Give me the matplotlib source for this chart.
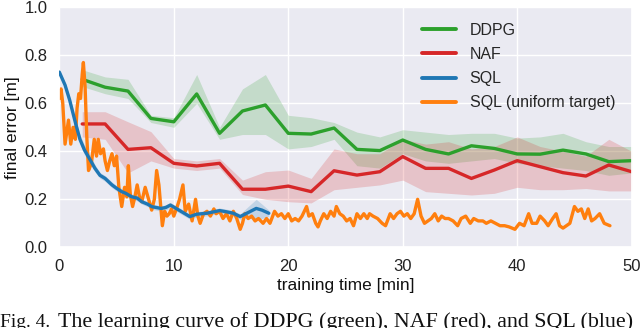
import numpy as np
import matplotlib
matplotlib.use("Agg")
import matplotlib.pyplot as plt
import seaborn as sns

# ---------------- data ----------------
ddpg_t = [2, 4, 6, 8, 10, 12, 14, 16, 18, 20, 22, 24, 26, 28, 30, 32, 34, 36, 38, 40, 42, 44, 46, 48, 50]
ddpg_v = [0.70, 0.667, 0.651, 0.537, 0.523, 0.639, 0.475, 0.568, 0.593, 0.475, 0.472, 0.497,
          0.408, 0.403, 0.447, 0.408, 0.389, 0.423, 0.412, 0.389, 0.388, 0.405, 0.389, 0.357, 0.361]
ddpg_lo = [0.67, 0.64, 0.62, 0.52, 0.50, 0.60, 0.45, 0.47, 0.47, 0.41, 0.42, 0.45,
           0.34, 0.33, 0.39, 0.36, 0.35, 0.36, 0.37, 0.35, 0.34, 0.33, 0.32, 0.30, 0.31]
ddpg_hi = [0.74, 0.71, 0.70, 0.55, 0.54, 0.72, 0.50, 0.66, 0.72, 0.55, 0.54, 0.52,
           0.48, 0.46, 0.49, 0.48, 0.47, 0.475, 0.475, 0.455, 0.46, 0.475, 0.44, 0.42, 0.42]

naf_t = [2, 4, 6, 8, 10, 12, 14, 16, 18, 20, 22, 24, 26, 28, 30, 32, 34, 36, 38, 40, 42, 44, 46, 48, 50]
naf_v = [0.514, 0.514, 0.408, 0.415, 0.35, 0.339, 0.35, 0.242, 0.242, 0.255, 0.232, 0.319,
         0.301, 0.315, 0.378, 0.329, 0.329, 0.287, 0.322, 0.361, 0.336, 0.311, 0.297, 0.343, 0.315]
naf_lo = [0.46, 0.45, 0.31, 0.36, 0.33, 0.32, 0.33, 0.22, 0.20, 0.19, 0.185, 0.24,
          0.25, 0.26, 0.28, 0.232, 0.225, 0.218, 0.225, 0.25, 0.24, 0.24, 0.245, 0.235, 0.235]
naf_hi = [0.565, 0.565, 0.523, 0.482, 0.37, 0.36, 0.37, 0.28, 0.315, 0.322, 0.287, 0.41,
          0.39, 0.39, 0.45, 0.43, 0.44, 0.41, 0.42, 0.46, 0.42, 0.40, 0.38, 0.45, 0.40]

sql_t = [0.0, 0.5, 0.9, 1.4, 1.8, 2.2, 2.7, 3.1, 3.55, 4.0, 4.6, 5.0, 5.45, 5.8, 6.3, 6.8, 7.2,
         7.7, 8.1, 8.9, 9.3, 9.7, 10.2, 10.8, 11.4, 12.0, 12.9, 13.5, 14.0, 14.6, 15.2, 15.8,
         16.5, 17.2, 17.7, 18.3]
sql_v = [0.73, 0.676, 0.614, 0.52, 0.45, 0.405, 0.364, 0.33, 0.30, 0.287, 0.26, 0.246, 0.232,
         0.225, 0.211, 0.205, 0.19, 0.18, 0.169, 0.162, 0.166, 0.176, 0.162, 0.145, 0.128, 0.138,
         0.142, 0.148, 0.153, 0.148, 0.142, 0.128, 0.145, 0.162, 0.155, 0.142]
sql_lo = [0.72, 0.665, 0.60, 0.50, 0.43, 0.385, 0.345, 0.315, 0.288, 0.275, 0.248, 0.235, 0.22,
          0.213, 0.2, 0.194, 0.18, 0.17, 0.158, 0.151, 0.155, 0.165, 0.151, 0.134, 0.117, 0.127,
          0.131, 0.137, 0.142, 0.137, 0.131, 0.117, 0.12, 0.12, 0.12, 0.13]
sql_hi = [0.74, 0.687, 0.628, 0.54, 0.47, 0.425, 0.383, 0.345, 0.312, 0.299, 0.272, 0.257, 0.244,
          0.237, 0.222, 0.216, 0.20, 0.19, 0.18, 0.173, 0.177, 0.187, 0.173, 0.156, 0.139, 0.149,
          0.153, 0.159, 0.164, 0.159, 0.153, 0.139, 0.17, 0.20, 0.18, 0.155]

uni_t = [0.0, 0.15, 0.3, 0.5, 0.65, 0.8, 1.0, 1.2, 1.4, 1.55, 1.7, 1.85, 2.0, 2.1, 2.25, 2.4,
         2.55, 2.8, 3.05, 3.25, 3.4, 3.6, 3.85, 4.0, 4.2, 4.4, 4.6, 4.8, 5.0, 5.2, 5.45, 5.7,
         5.9, 6.03, 6.2, 6.4, 6.6, 6.8, 7.0, 7.2, 7.5, 7.8, 8.07, 8.3, 8.5, 8.7, 9.0, 9.2, 9.4,
         9.6, 9.8, 10.0, 10.3, 10.5, 10.8, 11.0, 11.3, 11.6, 11.9, 12.1, 12.3, 12.6, 12.9, 13.2,
         13.5, 13.7, 14.0, 14.3, 14.6, 14.9, 15.2, 15.5, 15.8, 16.0, 16.2, 16.5, 16.8, 17.1, 17.4,
         17.8, 18.1, 18.4, 18.8, 19.1, 19.4, 19.7, 20.0, 20.3, 20.6, 20.9, 21.2, 21.6, 21.8, 22.1,
         22.4, 22.6, 22.8, 23.1, 23.4, 23.7, 24.0, 24.2, 24.5, 24.8, 25.1, 25.4, 25.7, 26.0, 26.3,
         26.6, 26.9, 27.1, 27.4, 27.8, 28.2, 28.5, 28.9, 29.2, 29.5, 29.8, 30.1, 30.4, 30.7, 31.0,
         31.3, 31.6, 31.9, 32.2, 32.5, 32.8, 33.1, 33.4, 33.7, 34.0, 34.4, 34.8, 35.1, 35.5, 35.9,
         36.2, 36.6, 37.0, 37.3, 37.7, 38.1, 38.5, 38.9, 39.3, 39.8, 40.2, 40.6, 41.0, 41.3, 41.7,
         42.0, 42.4, 42.7, 43.1, 43.4, 43.7, 44.0, 44.3, 44.6, 45.0, 45.3, 45.6, 45.9, 46.2, 46.5,
         46.8, 47.2, 47.6, 48.1]
uni_v = [0.62, 0.66, 0.60, 0.43, 0.48, 0.53, 0.43, 0.50, 0.45, 0.58, 0.64, 0.62, 0.72, 0.77,
         0.67, 0.46, 0.32, 0.35, 0.45, 0.38, 0.45, 0.39, 0.41, 0.36, 0.32, 0.36, 0.39, 0.34, 0.38,
         0.25, 0.17, 0.25, 0.21, 0.34, 0.22, 0.17, 0.21, 0.26, 0.21, 0.19, 0.25, 0.20, 0.155, 0.20,
         0.32, 0.26, 0.09, 0.15, 0.13, 0.14, 0.16, 0.13, 0.17, 0.20, 0.26, 0.15, 0.18, 0.11, 0.20,
         0.13, 0.10, 0.14, 0.15, 0.13, 0.16, 0.14, 0.15, 0.12, 0.14, 0.11, 0.15, 0.12, 0.075, 0.10,
         0.14, 0.12, 0.13, 0.11, 0.12, 0.10, 0.12, 0.10, 0.15, 0.13, 0.14, 0.12, 0.14, 0.11, 0.12,
         0.11, 0.13, 0.17, 0.13, 0.14, 0.10, 0.085, 0.11, 0.14, 0.12, 0.15, 0.13, 0.17, 0.14, 0.13,
         0.11, 0.12, 0.09, 0.14, 0.12, 0.14, 0.12, 0.14, 0.13, 0.12, 0.10, 0.09, 0.14, 0.12, 0.14,
         0.15, 0.13, 0.14, 0.12, 0.14, 0.20, 0.13, 0.10, 0.11, 0.12, 0.14, 0.11, 0.13, 0.12, 0.12,
         0.11, 0.09, 0.12, 0.13, 0.10, 0.12, 0.11, 0.11, 0.10, 0.11, 0.10, 0.09, 0.09, 0.085, 0.075,
         0.10, 0.09, 0.14, 0.10, 0.10, 0.13, 0.11, 0.09, 0.12, 0.14, 0.09, 0.08, 0.09, 0.10, 0.17,
         0.15, 0.16, 0.12, 0.16, 0.11, 0.12, 0.14, 0.10, 0.09]

xticks = [0, 10, 20, 30, 40, 50]
yticks = [0.0, 0.2, 0.4, 0.6, 0.8, 1.0]
labels = ["DDPG", "NAF", "SQL", "SQL (uniform target)"]
caption_head = "Fig. 4."
caption_body = "The learning curve of DDPG (green), NAF (red), and SQL (blue)"

# ---------------- style ----------------
sns.set_theme(style="darkgrid")
plt.rcParams["font.family"] = ["Liberation Sans", "DejaVu Sans"]

c_green, c_red, c_blue, c_orange = "#2ca02c", "#d62728", "#1f77b4", "#ff7f0e"

fig = plt.figure(figsize=(6.4, 3.28), dpi=100)
ax = fig.add_axes([0.0927, 0.246, 0.8943, 0.7317])

ax.fill_between(ddpg_t, ddpg_lo, ddpg_hi, color=c_green, alpha=0.2, lw=0)
ax.fill_between(naf_t, naf_lo, naf_hi, color=c_red, alpha=0.2, lw=0)
ax.fill_between(sql_t, sql_lo, sql_hi, color=c_blue, alpha=0.2, lw=0)

ax.plot(ddpg_t, ddpg_v, color=c_green, lw=2.4, label=labels[0])
ax.plot(naf_t, naf_v, color=c_red, lw=2.4, label=labels[1])
ax.plot(sql_t, sql_v, color=c_blue, lw=2.4, label=labels[2], zorder=3)
ax.plot(uni_t, uni_v, color=c_orange, lw=2.4, label=labels[3], zorder=2.5)

ax.set_xlim(0, 50)
ax.set_ylim(0, 1.0)
ax.set_xticks(xticks)
ax.set_yticks(yticks)
ax.set_yticklabels([f"{y:.1f}" for y in yticks])
ax.tick_params(axis="both", labelsize=12, pad=8.5, length=0, colors="#222222")
ax.set_xlabel("training time [min]", fontsize=12.5, color="#111111", labelpad=3)
ax.set_ylabel("final error [m]", fontsize=12.5, color="#111111", labelpad=3)

leg = ax.legend(loc="upper left", bbox_to_anchor=(0.608, 0.995), frameon=False,
                fontsize=11.5, labelspacing=0.57, handlelength=2.13, handletextpad=0.87)
for h in leg.get_lines():
    h.set_linewidth(2.8)

fig.text(0.0, 1.0 / 328, caption_head, fontsize=14.0,
         family=["Liberation Serif", "DejaVu Serif"], ha="left", va="baseline", color="#111111")
fig.text(58 / 640, 1.0 / 328, caption_body, fontsize=15.8,
         family=["Liberation Serif", "DejaVu Serif"], ha="left", va="baseline", color="#111111")

fig.savefig("out.png", dpi=100)
